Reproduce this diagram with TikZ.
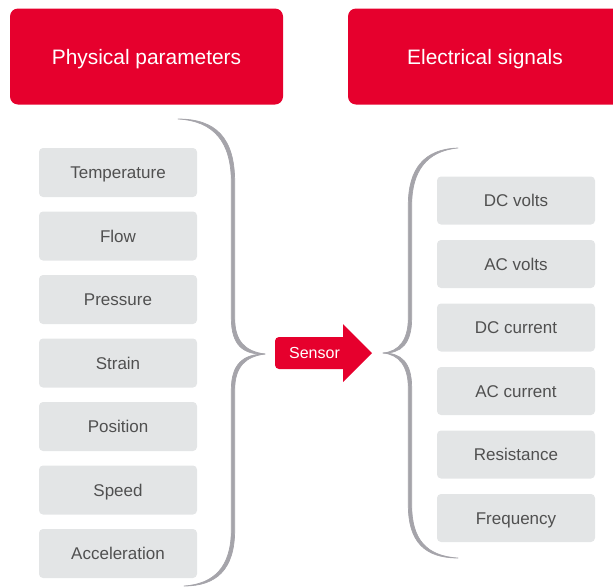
\documentclass[tikz,border=0pt]{standalone}
\usepackage{fontspec}
\setmainfont{Liberation Sans}
\definecolor{brandred}{RGB}{230,0,45}
\definecolor{boxgray}{RGB}{227,229,230}
\definecolor{txtgray}{RGB}{80,80,80}
\definecolor{bracegray}{RGB}{165,164,170}
\begin{document}
\begin{tikzpicture}[x=1pt,y=-1pt,
  header/.style={fill=brandred,rounded corners=8pt,minimum height=96pt,inner sep=0pt,
    text=white,font=\fontsize{20.9}{24}\selectfont,text height=15pt,text depth=0pt},
  item/.style={fill=boxgray,rounded corners=4pt,minimum width=158pt,minimum height=49pt,
    inner sep=0pt,text=txtgray,font=\fontsize{17}{20}\selectfont,text height=12.2pt,text depth=0pt},
  bracefill/.style={fill=bracegray,draw=bracegray,line width=0.7pt,line join=round}]
\useasboundingbox (0,0) rectangle (613,587);
% headers
\node[header,minimum width=273pt] (phys) at (146.5,56.5) {Physical parameters};
\begin{scope}
\clip (0,0) rectangle (613,587);
\node[header,minimum width=274pt] (elec) at (485,56.5) {Electrical signals};
\end{scope}
% left items
\node[item] (temp) at (118,172.5) {Temperature};
\node[item] (flow) at (118,236) {Flow};
\node[item] (pres) at (118,299.5) {Pressure};
\node[item] (strain) at (118,363) {Strain};
\node[item] (pos) at (118,426.5) {Position};
\node[item] (speed) at (118,490) {Speed};
\node[item] (acc) at (118,553.5) {Acceleration};
% right items
\node[item,minimum height=48pt] (dcv) at (516,200.5) {DC volts};
\node[item,minimum height=48pt] (acv) at (516,264) {AC volts};
\node[item,minimum height=48pt] (dcc) at (516,327.5) {DC current};
\node[item,minimum height=48pt] (acc2) at (516,391) {AC current};
\node[item,minimum height=48pt] (res) at (516,454.5) {Resistance};
\node[item,minimum height=48pt] (freq) at (516,518) {Frequency};
% left brace (tapered)
\coordinate (lbtop) at (178,119);
\coordinate (lbtip) at (265,354);
\coordinate (lbbot) at (184,586);
\filldraw[bracefill] (lbtop) .. controls (216,119) and (234.7,138) .. (234.7,182)
  -- (234.7,318) .. controls (234.7,341) and (245,351.5) .. (lbtip)
  .. controls (243,355) and (231.3,345) .. (231.3,318)
  -- (231.3,182) .. controls (231.3,142) and (214,121) .. (lbtop) -- cycle;
\filldraw[bracefill] (lbtip) .. controls (246,356.5) and (234.7,366) .. (234.7,390)
  -- (234.7,530) .. controls (234.7,570) and (216,586) .. (lbbot)
  .. controls (214,584) and (231.3,567) .. (231.3,530)
  -- (231.3,390) .. controls (231.3,364) and (243,354) .. (lbtip) -- cycle;
% right brace (tapered)
\coordinate (rbtop) at (458,148);
\coordinate (rbtip) at (383,353);
\coordinate (rbbot) at (458,558);
\filldraw[bracefill] (rbtop) .. controls (424,149) and (408.3,169) .. (408.3,205)
  -- (408.3,318) .. controls (408.3,340) and (399,351.5) .. (rbtip)
  .. controls (401,353.5) and (411.7,344) .. (411.7,318)
  -- (411.7,205) .. controls (411.7,172) and (426,151) .. (rbtop) -- cycle;
\filldraw[bracefill] (rbtip) .. controls (399,354.5) and (408.3,366) .. (408.3,388)
  -- (408.3,505) .. controls (408.3,541) and (424,558) .. (rbbot)
  .. controls (426,556) and (411.7,539) .. (411.7,505)
  -- (411.7,388) .. controls (411.7,362) and (401,353) .. (rbtip) -- cycle;
% sensor arrow
\fill[brandred] (343,337) -- (343,324) -- (372,353) -- (343,382) -- (343,369)
  [rounded corners=4pt] -- (275,369) -- (275,337) [sharp corners] -- cycle;
\node[text=white,font=\fontsize{16}{19}\selectfont,inner sep=0pt,text height=11.5pt,text depth=0pt] (sensor) at (314.5,353) {Sensor};
\end{tikzpicture}
\end{document}
